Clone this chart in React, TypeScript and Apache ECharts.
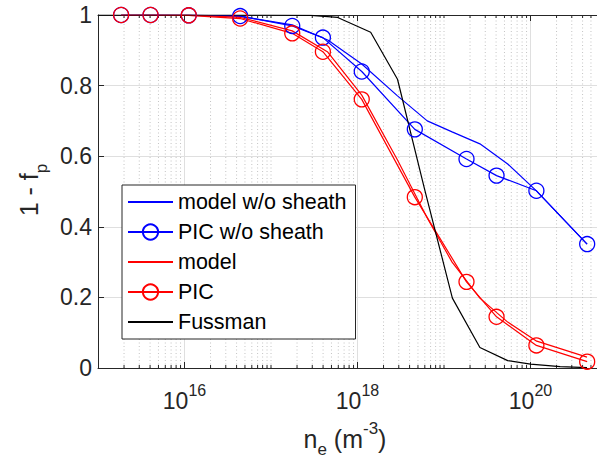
import React, { useEffect, useRef } from 'react';
import * as echarts from 'echarts';

// ---- data ----
const picX = [1.85e15, 4.05e15, 1.12e16, 4.4e16, 1.76e17, 3.98e17, 1.12e18, 4.6e18, 1.82e19, 4.05e19, 1.17e20, 4.52e20];
const picNoSheath = [1.0, 1.0, 0.999, 0.997, 0.969, 0.936, 0.84, 0.676, 0.592, 0.545, 0.502, 0.351];
const picSheath = [1.0, 1.0, 0.999, 0.99, 0.948, 0.896, 0.761, 0.484, 0.244, 0.145, 0.064, 0.018];

const modelX = [1.85e15, 1.12e16, 4.45e16, 1.76e17, 4.53e17, 1.12e18, 2.9e18, 6.4e18, 1.24e19, 2.6e19, 5.45e19, 1.18e20, 4.5e20];
const modelNoSheath = [1.0, 1.0, 0.996, 0.972, 0.929, 0.861, 0.771, 0.7, 0.669, 0.635, 0.578, 0.501, 0.351];
const modelSheath = [1.0, 1.0, 0.993, 0.955, 0.895, 0.773, 0.589, 0.425, 0.3, 0.198, 0.13, 0.076, 0.031];

const fussmanX = [1e15, 1e16, 1e17, 2.9e17, 5.9e17, 1.42e18, 2.9e18, 6.0e18, 1.25e19, 2.6e19, 5.45e19, 1e20, 2.2e20, 4.5e20];
const fussman = [1, 1, 1, 0.999, 0.993, 0.951, 0.818, 0.504, 0.198, 0.058, 0.021, 0.011, 0.004, 0.001];

const xMin = 1e15;
const xMax = 1e21;
const labeledExponents = [16, 18, 20];
const yTicks = [0, 0.2, 0.4, 0.6, 0.8, 1];

const FONT = '"Liberation Sans", Arial, Helvetica, sans-serif';
const AXIS = '#262626';

function zip(xs: number[], ys: number[]) {
  return xs.map((x, i) => [x, ys[i]]);
}

// grid positions of the log x axis: [value, isMajor]
function gridValues() {
  const out: number[][] = [];
  for (let e = 15; e <= 20; e++) {
    for (let k = 1; k <= 9; k++) {
      if (k === 1 && e === 15) continue;
      const v = k * Math.pow(10, e);
      const major = k === 1 && labeledExponents.includes(e) ? 1 : 0;
      out.push([v, major]);
    }
  }
  return out;
}

export default function App() {
  const ref = useRef<HTMLDivElement>(null);
  useEffect(() => {
    if (!ref.current) return;
    const chart = echarts.init(ref.current, undefined, { renderer: 'svg' });
    const blue = '#0000ff';
    const red = '#ff0000';
    const noSymbol = { opacity: 0, color: 'rgba(0,0,0,0)', borderWidth: 0 };
    const option: any = {
      animation: false,
      backgroundColor: '#ffffff',
      textStyle: { fontFamily: FONT },
      grid: { left: 98, top: 15, right: 0, bottom: 91, containLabel: false },
      xAxis: [
        {
          type: 'log',
          logBase: 10,
          min: xMin,
          max: xMax,
          position: 'bottom',
          axisLine: { show: true, lineStyle: { color: AXIS, width: 1 } },
          axisTick: { show: false },
          splitLine: { show: false },
          minorTick: { show: false },
          minorSplitLine: { show: false },
          axisLabel: {
            show: true,
            margin: 14,
            color: AXIS,
            formatter: (val: number) => {
              const e = Math.round(Math.log10(val));
              if (Math.abs(Math.log10(val) - e) < 1e-6 && labeledExponents.includes(e)) {
                return `{b|10}{s|${e}}`;
              }
              return '';
            },
            rich: {
              b: { fontSize: 23, lineHeight: 30, verticalAlign: 'bottom', color: AXIS, fontFamily: FONT },
              s: { fontSize: 16, lineHeight: 16, verticalAlign: 'top', color: AXIS, fontFamily: FONT },
            },
          },
        },
        {
          type: 'log',
          logBase: 10,
          min: xMin,
          max: xMax,
          position: 'top',
          axisLine: { show: true, lineStyle: { color: AXIS, width: 1 } },
          axisTick: { show: false },
          axisLabel: { show: false },
          splitLine: { show: false },
        },
      ],
      yAxis: [
        {
          type: 'value',
          min: 0,
          max: 1,
          interval: 0.2,
          axisLine: { show: true, lineStyle: { color: AXIS, width: 1 } },
          axisTick: { show: true, inside: true, length: 6, lineStyle: { color: AXIS } },
          splitLine: { show: true, lineStyle: { color: '#dfdfdf', width: 1 } },
          axisLabel: {
            color: AXIS,
            fontSize: 23,
            margin: 6,
            fontFamily: FONT,
            formatter: (v: number) => {
              const t = yTicks.find((y) => Math.abs(y - v) < 1e-9);
              return t === undefined ? '' : String(t);
            },
          },
        },
      ],
      legend: {
        orient: 'vertical',
        left: 122,
        top: 185,
        padding: [6, 9, 6, 5],
        itemGap: 8,
        itemWidth: 45,
        itemHeight: 19,
        backgroundColor: '#ffffff',
        borderColor: AXIS,
        borderWidth: 1,
        textStyle: { fontSize: 21.5, color: '#000000', fontFamily: FONT },
        data: [
          { name: 'model w/o sheath', itemStyle: noSymbol },
          { name: 'PIC w/o sheath' },
          { name: 'model', itemStyle: noSymbol },
          { name: 'PIC' },
          { name: 'Fussman', itemStyle: noSymbol },
        ],
      },
      graphic: [
        {
          type: 'text',
          x: 33,
          y: 190,
          rotation: Math.PI / 2,
          style: {
            text: '{a|1 - f}{s|p}',
            align: 'center',
            verticalAlign: 'middle',
            rich: {
              a: { fontSize: 25, lineHeight: 34, verticalAlign: 'top', fill: AXIS, fontFamily: FONT },
              s: { fontSize: 17, lineHeight: 17, verticalAlign: 'bottom', fill: AXIS, fontFamily: FONT },
            },
          },
        },
        {
          type: 'text',
          x: 345,
          y: 439,
          style: {
            text: '{a|n}{s|e}{a| (m}{p|-3}{a|)}',
            align: 'center',
            verticalAlign: 'middle',
            rich: {
              a: { fontSize: 25, lineHeight: 38, verticalAlign: 'middle', fill: AXIS, fontFamily: FONT },
              s: { fontSize: 17, lineHeight: 17, verticalAlign: 'bottom', fill: AXIS, fontFamily: FONT },
              p: { fontSize: 17, lineHeight: 17, verticalAlign: 'top', fill: AXIS, fontFamily: FONT },
            },
          },
        },
      ],
      series: [
        {
          type: 'custom',
          name: 'grid',
          silent: true,
          z: 1,
          clip: false,
          data: gridValues(),
          renderItem: (params: any, api: any) => {
            const x = api.value(0);
            const major = api.value(1) === 1;
            const pb = api.coord([x, 0]);
            const pt = api.coord([x, 1]);
            const tl = major ? 6 : 3;
            return {
              type: 'group',
              children: [
                {
                  type: 'line',
                  shape: { x1: pb[0], y1: pb[1], x2: pt[0], y2: pt[1] },
                  style: major
                    ? { stroke: '#dfdfdf', lineWidth: 1 }
                    : { stroke: '#c4c4c4', lineWidth: 1, lineDash: [1, 2.5] },
                },
                {
                  type: 'line',
                  shape: { x1: pb[0], y1: pb[1], x2: pb[0], y2: pb[1] - tl },
                  style: { stroke: AXIS, lineWidth: 1 },
                },
                {
                  type: 'line',
                  shape: { x1: pt[0], y1: pt[1], x2: pt[0], y2: pt[1] + tl },
                  style: { stroke: AXIS, lineWidth: 1 },
                },
              ],
            };
          },
        },
        {
          name: 'model w/o sheath',
          type: 'line',
          z: 3,
          symbol: 'none',
          data: zip(modelX, modelNoSheath),
          lineStyle: { color: blue, width: 1.2 },
          itemStyle: { color: blue },
        },
        {
          name: 'PIC w/o sheath',
          type: 'line',
          z: 3,
          symbol: 'circle',
          symbolSize: 15,
          data: zip(picX, picNoSheath),
          lineStyle: { color: blue, width: 1.2 },
          itemStyle: { color: 'rgba(0,0,0,0)', borderColor: blue, borderWidth: 1.3 },
        },
        {
          name: 'model',
          type: 'line',
          z: 3,
          symbol: 'none',
          data: zip(modelX, modelSheath),
          lineStyle: { color: red, width: 1.2 },
          itemStyle: { color: red },
        },
        {
          name: 'PIC',
          type: 'line',
          z: 3,
          symbol: 'circle',
          symbolSize: 15,
          data: zip(picX, picSheath),
          lineStyle: { color: red, width: 1.2 },
          itemStyle: { color: 'rgba(0,0,0,0)', borderColor: red, borderWidth: 1.3 },
        },
        {
          name: 'Fussman',
          type: 'line',
          z: 3,
          symbol: 'none',
          data: zip(fussmanX, fussman),
          lineStyle: { color: '#000000', width: 1.2 },
          itemStyle: { color: '#000000' },
        },
      ],
    };
    chart.setOption(option);
    return () => {
      chart.dispose();
    };
  }, []);
  return (
    <div
      style={{ position: 'fixed', left: 0, top: 0, width: 597, height: 459, overflow: 'hidden', background: '#fff' }}
    >
      <div ref={ref} style={{ width: 620, height: 459 }} />
    </div>
  );
}
